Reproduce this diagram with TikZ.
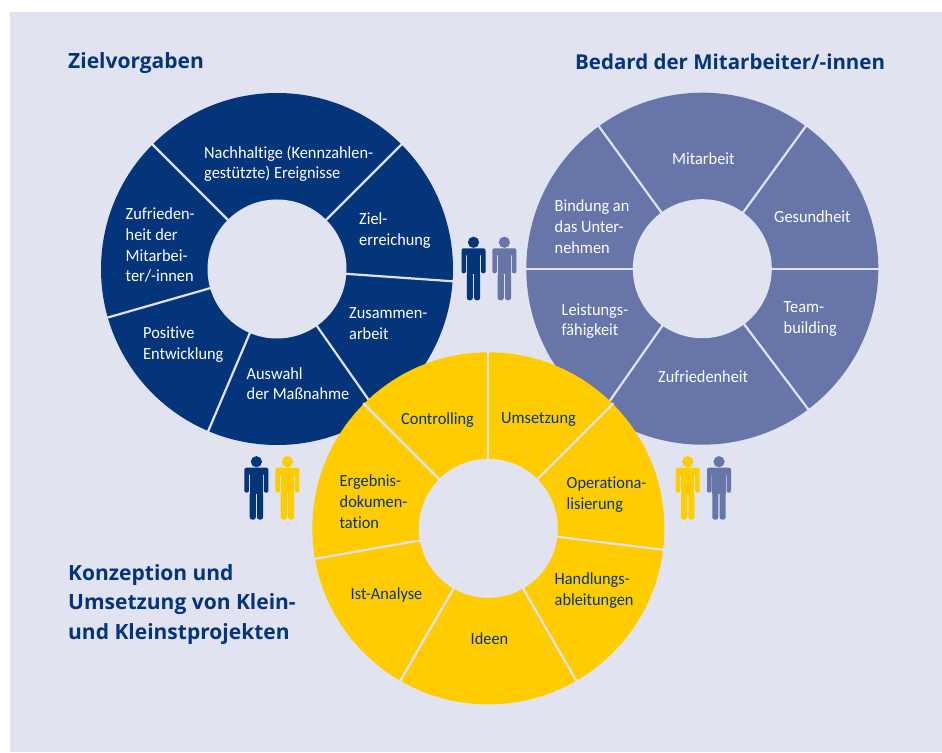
\documentclass[tikz,border=0pt]{standalone}
\usepackage{fontspec}
\setmainfont[FakeStretch=0.96,Ligatures=NoCommon]{Carlito}
\newfontfamily\headfont{Open Sans}
\usepackage{xcolor}
\definecolor{bgblue}{HTML}{E1E3F1}
\definecolor{darkblue}{HTML}{04357A}
\definecolor{midblue}{HTML}{6875A8}
\definecolor{signal}{HTML}{FFCC00}
\tikzset{%
	ring/.style={circle,inner sep=0pt,outer sep=0pt,minimum size=352pt},
	hole/.style={circle,inner sep=0pt,outer sep=0pt,minimum size=139pt,fill=bgblue},
	spoke/.style={draw=bgblue,line width=2.2pt,shorten <=-1pt,shorten >=-1pt},
	label/.style={anchor=west,align=left,inner sep=0pt,yshift=-0.7pt,font=\fontsize{17}{20.8}\selectfont},
	title/.style={anchor=west,align=left,inner sep=0pt,text=darkblue,font=\headfont\bfseries\fontsize{21}{29.5}\selectfont},
	person/.pic={
		\fill (0,0) circle (5.6);
		\fill (-6.7,-7) rectangle (6.7,-32);
		\fill[rounded corners=2] (-12,-31) -- (-12,-6) -- (12,-6) -- (12,-31) -- (7.5,-31) -- (7.5,-12) -- (-7.5,-12) -- (-7.5,-31) -- cycle;
		\fill[rounded corners=2.6] (-6.7,-30) -- (-0.6,-30) -- (-0.6,-58) -- (-6.7,-58) -- cycle;
		\fill[rounded corners=2.6] (6.7,-30) -- (0.6,-30) -- (0.6,-58) -- (6.7,-58) -- cycle;
	}
}
\begin{document}
\begin{tikzpicture}[x=1pt,y=1pt]
	\useasboundingbox (0,0) rectangle (942,752);
	\fill[bgblue] (10,0) rectangle (942,740);

	\node[ring,fill=darkblue] (Z) at (277,483) {};
	\node[hole] (z) at (277,483) {};
	\draw[spoke] (z.45)--(Z.45);
	\draw[spoke] (z.-4.3)--(Z.-4.3);
	\draw[spoke] (z.-55)--(Z.-55);
	\draw[spoke] (z.247)--(Z.247);
	\draw[spoke] (z.196.7)--(Z.196.7);
	\draw[spoke] (z.135)--(Z.135);

	\node[ring,fill=midblue] (B) at (702.3,483.3) {};
	\node[hole] (b) at (702.3,483.3) {};
	\draw[spoke] (b.0)--(B.0);
	\draw[spoke] (b.54.8)--(B.54.8);
	\draw[spoke] (b.126.4)--(B.126.4);
	\draw[spoke] (b.180)--(B.180);
	\draw[spoke] (b.235)--(B.235);
	\draw[spoke] (b.-53.6)--(B.-53.6);

	\node[ring,fill=signal] (K) at (488.3,223.7) {};
	\node[hole] (k) at (488.3,223.7) {};
	\draw[spoke] (k.90)--(K.90);
	\draw[spoke] (k.45)--(K.45);
	\draw[spoke] (k.-7.1)--(K.-7.1);
	\draw[spoke] (k.-60)--(K.-60);
	\draw[spoke] (k.240)--(K.240);
	\draw[spoke] (k.190)--(K.190);
	\draw[spoke] (k.135)--(K.135);

	\node[title] (t1) at (68,689) {Zielvorgaben};
	\node[title,font=\headfont\bfseries\fontsize{20.5}{29.5}\selectfont] (t2) at (575,690.5) {Bedard der Mitarbeiter/-innen};
	\node[title] (t3) at (68,147.5) {Konzeption und\\Umsetzung von Klein-\\und Kleinstprojekten};

	\node[label,text=white] (z1) at (204,589) {Nachhaltige (Kennzahlen-\\gestützte) Ereignisse};
	\node[label,text=white] (z2) at (359,522) {Ziel-\\erreichung};
	\node[label,text=white] (z3) at (349,429) {Zusammen-\\arbeit};
	\node[label,text=white] (z4) at (246.5,369) {Auswahl\\der Maßnahme};
	\node[label,text=white] (z5) at (143,408) {Positive\\Entwicklung};
	\node[label,text=white] (z6) at (125.5,507.5) {Zufrieden-\\heit der\\Mitarbei-\\ter/-innen};

	\node[label,text=white] (b1) at (672,594) {Mitarbeit};
	\node[label,text=white] (b2) at (774,536) {Gesundheit};
	\node[label,text=white] (b3) at (783.5,433.5) {Team-\\building};
	\node[label,text=white] (b4) at (658,376) {Zufriedenheit};
	\node[label,text=white] (b5) at (561.5,431.5) {Leistungs-\\fähigkeit};
	\node[label,text=white] (b6) at (554.5,526) {Bindung an\\das Unter-\\nehmen};

	\node[label,text=darkblue] (k1) at (401,333) {Controlling};
	\node[label,text=darkblue] (k2) at (501,333) {Umsetzung};
	\node[label,text=darkblue] (k3) at (566.5,258) {Operationa-\\lisierung};
	\node[label,text=darkblue] (k4) at (554.5,162.5) {Handlungs-\\ableitungen};
	\node[label,text=darkblue] (k5) at (470.5,114) {Ideen};
	\node[label,text=darkblue] (k6) at (350.5,158) {Ist-Analyse};
	\node[label,text=darkblue] (k7) at (339.5,251) {Ergebnis-\\dokumen-\\tation};

	\pic[darkblue] (p1) at (473.5,509.7) {person};
	\pic[midblue] (p2) at (504.4,509.7) {person};
	\pic[darkblue] (p3) at (256.4,290.3) {person};
	\pic[signal] (p4) at (287.4,290.3) {person};
	\pic[signal] (p5) at (687.7,290.3) {person};
	\pic[midblue] (p6) at (719,290.3) {person};
\end{tikzpicture}
\end{document}
